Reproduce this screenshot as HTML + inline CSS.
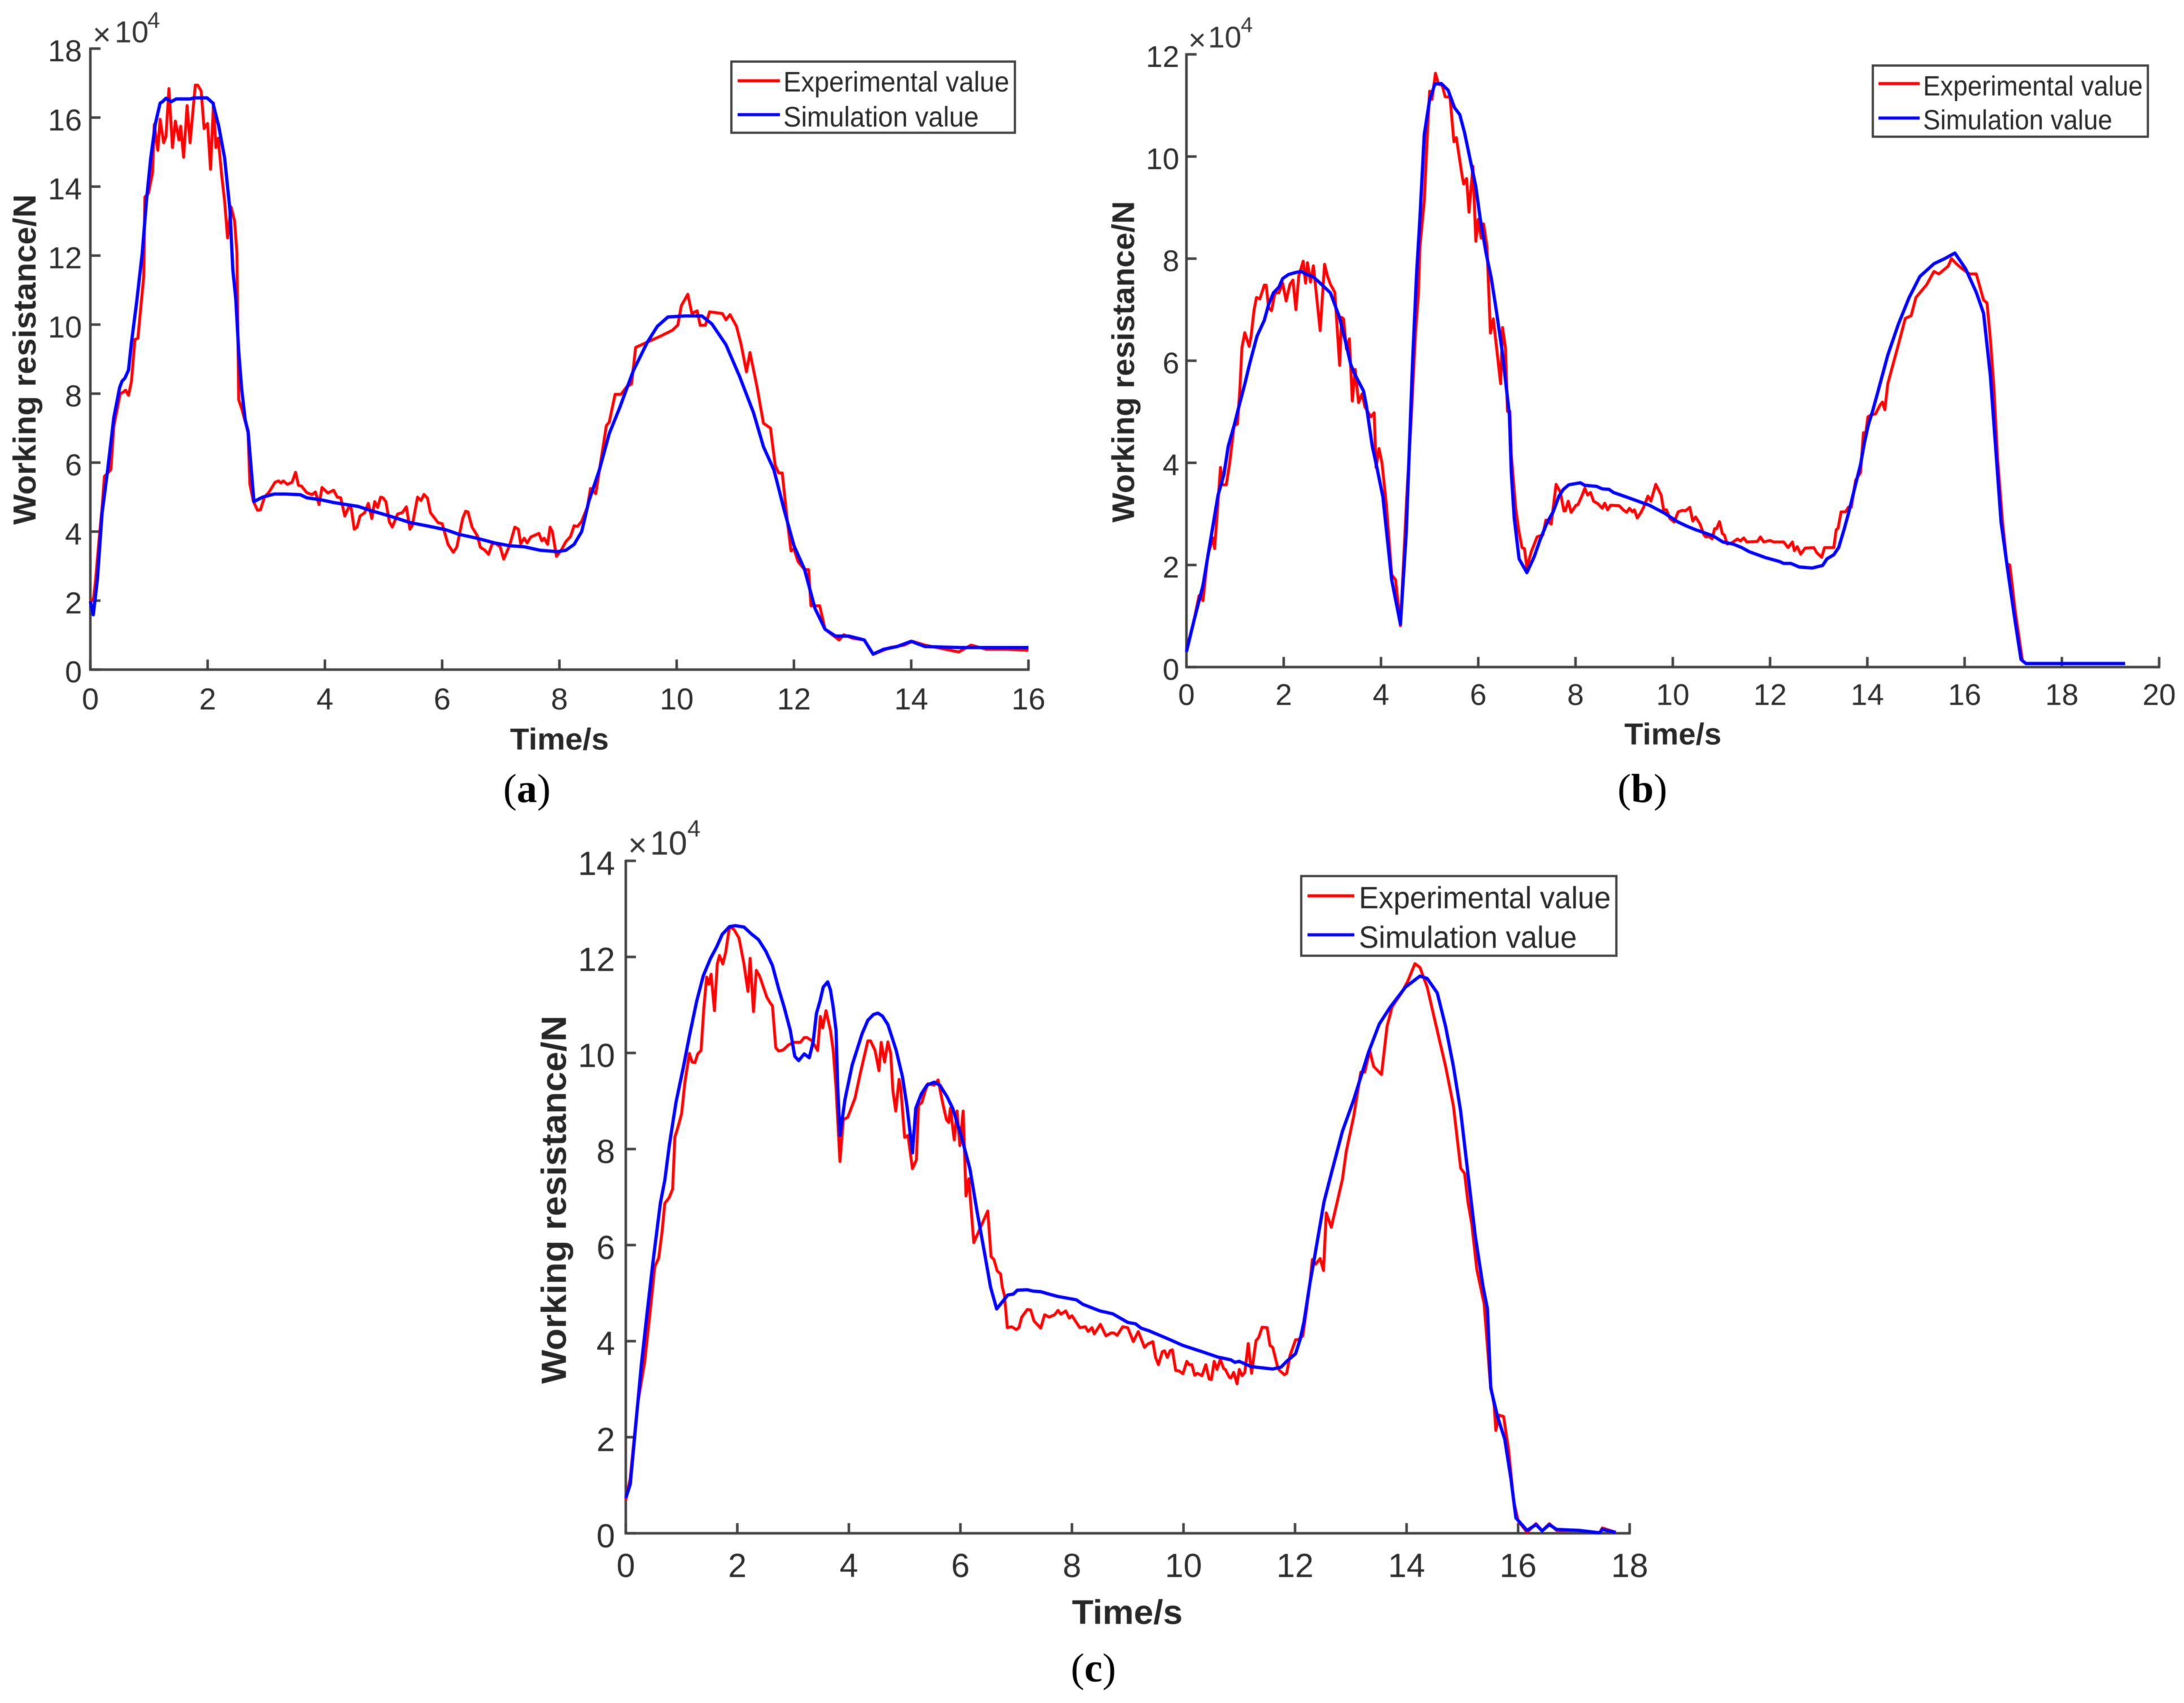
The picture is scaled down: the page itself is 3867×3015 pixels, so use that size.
<!DOCTYPE html>
<html>
<head>
<meta charset="utf-8">
<title>Working resistance: experimental and simulation values</title>
<style>
html,body{margin:0;padding:0;background:#fff;}
svg{display:block;filter:blur(0.7px);}
.tick{font-family:"Liberation Sans",sans-serif;fill:#2b2b2b;}
.mult{font-family:"Liberation Sans",sans-serif;fill:#333;}
.title{font-family:"Liberation Sans",sans-serif;font-weight:bold;fill:#262626;}
.leg{font-family:"Liberation Sans",sans-serif;fill:#262626;}
.cap{font-family:"Liberation Serif",serif;fill:#000;}
</style>
</head>
<body>
<svg id="figure" xmlns="http://www.w3.org/2000/svg" width="3867" height="3015" viewBox="0 0 3867 3015">
<rect x="0" y="0" width="3867" height="3015" fill="#fff"/>

<g id="panel-a">
  <text class="title" font-size="57" transform="translate(63,929) rotate(-90)" textLength="585" lengthAdjust="spacingAndGlyphs">Working resistance/N</text>
  <text class="title" font-size="54" x="903" y="1327" textLength="175" lengthAdjust="spacingAndGlyphs">Time/s</text>
  <text class="mult" font-size="56" x="164" y="80">×</text>
  <text class="mult" font-size="54" x="203" y="75">10</text>
  <text class="mult" font-size="40" x="261" y="49">4</text>
  <text class="cap" font-size="72" x="933" y="1420" text-anchor="middle">(<tspan font-weight="bold">a</tspan>)</text>
</g>

<g id="panel-b">
  <text class="title" font-size="56" transform="translate(2008,925) rotate(-90)" textLength="569" lengthAdjust="spacingAndGlyphs">Working resistance/N</text>
  <text class="title" font-size="54" x="2876" y="1318" textLength="172" lengthAdjust="spacingAndGlyphs">Time/s</text>
  <text class="mult" font-size="54" x="2104" y="89">×</text>
  <text class="mult" font-size="53" x="2139" y="84">10</text>
  <text class="mult" font-size="38" x="2197" y="57">4</text>
  <text class="cap" font-size="72" x="2908" y="1420" text-anchor="middle">(<tspan font-weight="bold">b</tspan>)</text>
</g>

<g id="panel-c">
  <text class="title" font-size="62" transform="translate(1002,2450) rotate(-90)" textLength="652" lengthAdjust="spacingAndGlyphs">Working resistance/N</text>
  <text class="title" font-size="60" x="1898" y="2875" textLength="196" lengthAdjust="spacingAndGlyphs">Time/s</text>
  <text class="mult" font-size="58" x="1112" y="1516">×</text>
  <text class="mult" font-size="59" x="1151" y="1513">10</text>
  <text class="mult" font-size="42" x="1217" y="1481">4</text>
  <text class="cap" font-size="72" x="1936" y="2977" text-anchor="middle">(<tspan font-weight="bold">c</tspan>)</text>
</g>

<g id="legends">
  <g>
    <rect x="1295" y="109" width="502" height="126" fill="#fff" stroke="#404040" stroke-width="4"/>
    <line x1="1306" y1="143" x2="1381" y2="143" stroke="#f00" stroke-width="5.5"/>
    <text class="leg" font-size="50" x="1387" y="162" textLength="400" lengthAdjust="spacingAndGlyphs">Experimental value</text>
    <line x1="1306" y1="203" x2="1381" y2="203" stroke="#00f" stroke-width="5.5"/>
    <text class="leg" font-size="50" x="1387" y="224" textLength="346" lengthAdjust="spacingAndGlyphs">Simulation value</text>
  </g>
  <g>
    <rect x="3316" y="116" width="487" height="126" fill="#fff" stroke="#404040" stroke-width="4"/>
    <line x1="3326" y1="148" x2="3399" y2="148" stroke="#f00" stroke-width="5.5"/>
    <text class="leg" font-size="49" x="3405" y="169" textLength="389" lengthAdjust="spacingAndGlyphs">Experimental value</text>
    <line x1="3326" y1="209" x2="3399" y2="209" stroke="#00f" stroke-width="5.5"/>
    <text class="leg" font-size="49" x="3405" y="229" textLength="335" lengthAdjust="spacingAndGlyphs">Simulation value</text>
  </g>
  <g>
    <rect x="2304" y="1551" width="558" height="141" fill="#fff" stroke="#404040" stroke-width="4"/>
    <line x1="2315" y1="1586" x2="2398" y2="1586" stroke="#f00" stroke-width="5.5"/>
    <text class="leg" font-size="55" x="2406" y="1608" textLength="446" lengthAdjust="spacingAndGlyphs">Experimental value</text>
    <line x1="2315" y1="1655" x2="2398" y2="1655" stroke="#00f" stroke-width="5.5"/>
    <text class="leg" font-size="55" x="2406" y="1678" textLength="386" lengthAdjust="spacingAndGlyphs">Simulation value</text>
  </g>
</g>
</svg>

<script>
// ---- Panel (a) data (force in units of 10^4 N) ----
var xTicksA = [0,2,4,6,8,10,12,14,16];
var yTicksA = [0,2,4,6,8,10,12,14,16,18];
var expTimeA = [
0,.05,.09,.15,.2,.24,.3,.35,.4,.44,
.51,.56,.6,.65,.7,.76,.81,.91,.93,.99,
1.06,1.09,1.15,1.19,1.25,1.29,1.34,1.4,1.45,1.51,
1.54,1.59,1.65,1.7,1.79,1.83,1.89,1.94,2,2.05,
2.1,2.14,2.18,2.24,2.29,2.34,2.4,2.46,2.5,2.53,
2.58,2.64,2.69,2.72,2.78,2.85,2.9,2.97,3.05,3.15,
3.21,3.25,3.29,3.36,3.44,3.5,3.55,3.6,3.69,3.78,
3.84,3.9,3.95,4.05,4.15,4.21,4.27,4.34,4.41,4.45,
4.5,4.55,4.6,4.68,4.74,4.8,4.85,4.9,4.95,4.99,
5.04,5.1,5.15,5.24,5.32,5.39,5.45,5.49,5.58,5.64,
5.69,5.75,5.8,5.93,6,6.1,6.19,6.25,6.35,6.4,
6.44,6.51,6.6,6.65,6.73,6.79,6.85,6.9,6.99,7.05,
7.15,7.24,7.3,7.34,7.4,7.45,7.51,7.65,7.7,7.74,
7.8,7.84,7.88,7.95,8.03,8.11,8.19,8.25,8.31,8.38,
8.48,8.53,8.62,8.71,8.8,8.85,8.95,9.05,9.15,9.23,
9.3,9.5,9.73,9.93,10.02,10.08,10.19,10.26,10.35,10.4,
10.49,10.56,10.78,10.84,10.91,11.02,11.1,11.19,11.25,11.37,
11.48,11.6,11.68,11.74,11.8,11.89,11.95,12,12.07,12.18,
12.25,12.29,12.44,12.53,12.77,12.85,13,13.2,13.35,13.64,
13.88,14.02,14.23,14.81,15.02,15.28,15.63,16];
var expForceA = [
2.05,2,2.6,3.8,4.7,5.6,5.7,5.8,7.05,7.4,
8,8.04,8.1,7.95,8.35,9.57,9.6,11.4,13.7,13.8,
14.4,15.8,15.05,15.95,15.27,15.46,16.84,15.13,15.9,15.35,
15.75,14.85,16.35,15.27,16.94,16.94,16.77,15.68,15.83,14.5,
16.42,15.13,15.4,14.33,13.58,12.51,13.41,13,12.08,7.82,
7.57,7.2,6.86,5.38,4.88,4.62,4.63,5,5.15,5.43,
5.47,5.41,5.47,5.37,5.43,5.72,5.34,5.32,5.13,5.07,
5.15,4.78,5.28,5.12,5.2,5,4.98,4.45,4.72,4.67,
4.07,4.13,4.45,4.55,4.82,4.38,4.87,4.7,5,4.98,
4.87,4.28,4.13,4.51,4.55,4.72,4.07,4.17,5,4.9,
5.08,4.97,4.55,4.26,4.23,3.63,3.4,3.55,4.38,4.59,
4.57,4.13,3.88,3.55,3.46,3.34,3.63,3.67,3.56,3.2,
3.6,4.13,4.07,3.65,3.81,3.67,3.84,3.95,3.73,3.81,
3.63,4.13,4,3.28,3.46,3.71,3.86,4.17,4.15,4.3,
4.72,5.25,5.1,6.08,7.07,7.17,7.98,7.98,8.2,8.28,
9.34,9.49,9.67,9.84,9.99,10.55,10.88,10.32,10.4,9.98,
9.98,10.37,10.32,10.14,10.29,9.95,9.42,8.63,9.19,8.2,
7.14,7,5.93,5.7,5.7,4.27,3.44,3.5,3.13,2.9,
2.9,1.85,1.85,1.17,.86,1.01,.91,.86,.44,.64,
.71,.82,.71,.51,.71,.59,.59,.56];
var simTimeA = [
0,.05,.12,.2,.29,.4,.5,.54,.59,.65,
.7,.79,.885,.96,1.03,1.11,1.19,1.23,1.29,1.38,
1.46,1.7,1.77,1.99,2.09,2.19,2.29,2.38,2.43,2.48,
2.53,2.58,2.64,2.69,2.79,2.94,3.14,3.33,3.58,3.69,
3.94,4.16,4.57,4.82,5.07,5.46,5.79,6.07,6.29,6.59,
6.9,7.15,7.4,7.67,7.97,8.11,8.25,8.38,8.5,8.68,
8.85,9.03,9.26,9.5,9.67,9.85,10.14,10.43,10.6,10.84,
11.07,11.31,11.48,11.66,11.83,12,12.18,12.36,12.53,12.71,
12.94,13.2,13.35,13.53,13.76,14,14.23,14.81,16];
var simForceA = [
1.98,1.59,2.63,4.55,5.72,7.3,8.18,8.36,8.45,8.68,
9.47,10.66,12.08,13.66,14.83,15.83,16.42,16.46,16.56,16.46,
16.54,16.54,16.57,16.57,16.42,15.75,14.83,13.33,11.58,10.74,
9.24,8.15,7.24,6.9,4.87,5,5.09,5.09,5.07,4.98,
4.92,4.84,4.73,4.59,4.47,4.26,4.15,4.05,3.92,3.81,
3.67,3.59,3.56,3.46,3.42,3.46,3.63,4,4.87,5.78,
6.84,7.6,8.66,9.49,9.95,10.22,10.25,10.25,10.02,9.42,
8.51,7.45,6.46,5.78,4.65,3.59,2.91,1.77,1.17,.97,
.97,.86,.45,.59,.67,.82,.67,.64,.64];

// ---- Panel (b) data ----
var xTicksB = [0,2,4,6,8,10,12,14,16,18,20];
var yTicksB = [0,2,4,6,8,10,12];
var expTimeB = [
0,.15,.26,.34,.44,.55,.58,.7,.74,.82,
.89,.98,1.05,1.1,1.14,1.2,1.29,1.33,1.39,1.44,
1.51,1.6,1.64,1.69,1.75,1.82,1.9,1.98,2.05,2.13,
2.19,2.25,2.31,2.4,2.45,2.49,2.55,2.61,2.75,2.84,
2.9,2.96,3.05,3.15,3.19,3.23,3.29,3.35,3.41,3.47,
3.54,3.61,3.67,3.74,3.79,3.86,3.9,3.96,4.02,4.11,
4.22,4.3,4.4,4.53,4.62,4.71,4.77,4.8,4.89,4.95,
5,5.05,5.12,5.18,5.26,5.32,5.42,5.5,5.55,5.67,
5.7,5.76,5.81,5.89,5.95,6,6.06,6.11,6.18,6.25,
6.31,6.46,6.5,6.56,6.6,6.65,6.68,6.77,6.83,6.9,
6.95,7,7.09,7.21,7.33,7.39,7.5,7.6,7.69,7.76,
7.79,7.85,7.91,8.01,8.05,8.13,8.19,8.25,8.31,8.37,
8.46,8.55,8.6,8.66,8.72,8.9,8.98,9.05,9.11,9.17,
9.21,9.27,9.34,9.4,9.49,9.55,9.65,9.76,9.81,9.87,
9.94,10.03,10.11,10.2,10.26,10.35,10.41,10.47,10.56,10.64,
10.68,10.74,10.81,10.86,10.9,10.96,11.02,11.06,11.12,11.21,
11.33,11.39,11.46,11.52,11.74,11.8,11.87,12,12.07,12.28,
12.37,12.46,12.5,12.56,12.63,12.72,12.9,12.96,13.06,13.12,
13.31,13.36,13.4,13.46,13.55,13.61,13.67,13.76,13.86,13.92,
13.97,14.01,14.08,14.17,14.26,14.31,14.36,14.42,14.64,14.78,
14.9,15,15.22,15.37,15.47,15.66,15.73,15.83,15.95,16.1,
16.24,16.39,16.46,16.53,16.6,16.68,16.78,16.87,16.93,17.04,
17.19,17.26,19.3];
var expForceB = [
.33,.89,1.4,1.3,2.2,2.53,2.32,3.91,3.57,3.57,
4,4.73,4.76,5.46,6.25,6.55,6.28,6.48,6.99,7.24,
7.21,7.48,7.48,7.04,6.98,7.33,7.33,7.52,7.17,7.5,
7.58,7,7.66,7.95,7.52,7.92,7.54,7.86,6.59,7.89,
7.66,7.5,7.34,5.91,6.85,6.82,6.23,6.43,5.21,5.83,
5.18,5.35,5.1,4.98,4.9,4.98,3.91,4.28,4,3.19,
1.81,1.71,.81,3.33,4.84,6.54,7.33,8.23,9.13,10.37,
11.28,11.12,11.63,11.42,11.39,11.17,11.16,10.29,10.37,9.61,
9.46,9.57,8.91,9.81,8.34,8.77,8.4,8.68,8.23,6.54,
6.82,5.55,6.65,6.25,5.01,5.01,4.16,3.11,2.69,2.34,
2.32,1.95,2.26,2.55,2.59,2.88,2.8,3.58,3.42,3.06,
3.06,3.25,3.03,3.17,3.18,3.35,3.5,3.37,3.42,3.25,
3.2,3.11,3.21,3.08,3.17,3.16,3.08,3.03,3.11,3.04,
3.08,2.92,3.02,3.13,3.35,3.25,3.58,3.37,3.08,3.08,
2.91,2.84,3.04,3.07,3.06,3.13,2.86,2.94,2.8,2.59,
2.55,2.56,2.51,2.71,2.71,2.85,2.61,2.59,2.41,2.43,
2.51,2.47,2.53,2.45,2.46,2.55,2.45,2.48,2.45,2.45,
2.34,2.45,2.28,2.36,2.21,2.33,2.34,2.24,2.15,2.34,
2.34,2.69,2.72,3.04,3.04,3.13,3.13,3.66,3.81,4.59,
4.59,4.9,4.94,4.96,5.13,5.19,5.04,5.55,6.32,6.83,
6.88,7.24,7.49,7.75,7.7,7.85,8,7.9,7.8,7.7,
7.7,7.19,7.13,6.42,5.5,4.06,2.84,2.02,2,1.1,
.12,.07,.07];
var simTimeB = [
0,.15,.34,.65,.77,.86,.98,1.1,1.21,1.3,
1.45,1.6,1.69,1.79,1.9,1.98,2.1,2.25,2.36,2.43,
2.61,2.75,2.96,3.14,3.26,3.38,3.47,3.64,3.7,3.82,
3.91,4.04,4.22,4.4,4.52,4.65,4.73,4.8,4.89,5,
5.11,5.24,5.38,5.51,5.62,5.72,5.95,6.04,6.16,6.27,
6.37,6.49,6.64,6.68,6.74,6.84,7,7.15,7.27,7.42,
7.54,7.66,7.75,7.86,8.1,8.19,8.43,8.55,8.69,8.78,
9.05,9.34,9.52,9.64,9.82,10.11,10.29,10.47,10.83,11.03,
11.24,11.42,11.57,11.92,12.19,12.28,12.43,12.6,12.87,13.08,
13.17,13.31,13.41,13.52,13.61,13.76,13.86,13.94,14.02,14.11,
14.2,14.42,14.64,14.86,15.08,15.37,15.59,15.8,16.02,16.24,
16.39,16.53,16.64,16.75,16.9,17.04,17.16,17.26,19.3];
var simForceB = [
.3,.89,1.6,3.37,3.77,4.33,4.73,5.18,5.58,5.94,
6.48,6.79,7.1,7.33,7.44,7.61,7.69,7.73,7.75,7.71,
7.64,7.52,7.33,6.87,6.42,5.92,5.72,5.41,5.12,4.33,
3.94,3.33,1.71,.84,2.63,5.97,7.66,8.79,10.43,11.11,
11.42,11.43,11.3,10.96,10.82,10.46,9.41,8.79,8.11,7.61,
6.99,6.2,4.95,3.81,2.92,2.12,1.85,2.16,2.49,2.84,
3.04,3.35,3.48,3.57,3.61,3.56,3.54,3.49,3.48,3.42,
3.33,3.23,3.17,3.11,3.02,2.84,2.76,2.69,2.57,2.45,
2.41,2.34,2.26,2.14,2.07,2.03,2.03,1.96,1.94,1.99,
2.12,2.2,2.34,2.69,3,3.58,3.97,4.39,4.74,5.02,
5.33,6.11,6.72,7.24,7.65,7.9,8,8.11,7.8,7.34,
6.93,5.7,4.27,2.84,1.81,.89,.15,.07,.07];

// ---- Panel (c) data ----
var xTicksC = [0,2,4,6,8,10,12,14,16,18];
var yTicksC = [0,2,4,6,8,10,12,14];
var expTimeC = [
0,.08,.21,.34,.44,.52,.59,.65,.7,.78,
.84,.88,.93,1,1.06,1.14,1.19,1.24,1.29,1.35,
1.4,1.45,1.49,1.53,1.59,1.64,1.68,1.74,1.79,1.86,
1.94,2.03,2.12,2.19,2.23,2.29,2.34,2.4,2.53,2.59,
2.63,2.69,2.74,2.82,2.92,3.02,3.13,3.2,3.25,3.33,
3.38,3.44,3.49,3.53,3.59,3.67,3.72,3.77,3.84,3.9,
3.98,4.11,4.21,4.34,4.39,4.47,4.54,4.58,4.64,4.7,
4.75,4.79,4.84,4.9,4.93,5,5.06,5.14,5.21,5.25,
5.31,5.37,5.42,5.53,5.6,5.68,5.75,5.79,5.82,5.89,
5.94,5.99,6.05,6.1,6.15,6.24,6.49,6.55,6.6,6.66,
6.72,6.75,6.79,6.84,6.92,7,7.05,7.1,7.2,7.26,
7.32,7.44,7.51,7.59,7.69,7.75,7.8,7.89,7.95,8,
8.14,8.24,8.29,8.36,8.4,8.51,8.61,8.7,8.75,8.81,
8.91,9,9.1,9.19,9.3,9.36,9.45,9.5,9.55,9.62,
9.66,9.71,9.76,9.8,9.86,9.92,9.99,10.06,10.1,10.15,
10.2,10.25,10.33,10.4,10.46,10.5,10.55,10.6,10.66,10.72,
10.75,10.82,10.85,10.9,10.96,11,11.05,11.1,11.16,11.22,
11.3,11.35,11.41,11.5,11.55,11.6,11.69,11.72,11.81,11.85,
11.91,12.01,12.06,12.14,12.19,12.27,12.31,12.37,12.45,12.51,
12.56,12.65,12.85,12.92,13.05,13.18,13.25,13.34,13.41,13.55,
13.65,13.74,13.91,14.02,14.15,14.24,14.37,14.51,14.7,14.84,
14.97,15.04,15.1,15.17,15.26,15.39,15.5,15.57,15.6,15.66,
15.74,15.83,15.92,16,16.16,16.32,16.43,16.56,16.69,17.09,
17.46,17.51,17.75];
var expForceC = [
.69,1.14,2.67,3.58,4.66,5.55,5.73,6.27,6.87,6.99,
7.17,8.25,8.43,8.73,9.39,9.99,9.81,9.8,9.98,10.05,
10.95,11.58,11.43,11.64,10.88,11.85,12.03,11.85,12.09,12.63,
12.57,12.39,11.85,11.28,11.97,10.86,11.72,11.6,11.16,11.04,
10.98,10.11,10.04,10.06,10.17,10.22,10.22,10.32,10.32,10.26,
10.17,10.05,10.76,10.52,10.88,10.47,10.05,9.27,7.74,8.61,
8.66,9.06,9.6,10.25,10.25,10.05,9.63,10.22,9.81,10.23,
9.99,9.21,8.79,9.45,9.27,8.24,8.28,7.59,7.77,8.91,
8.97,9.21,9.36,9.33,9.44,8.97,8.61,8.55,8.85,8.19,
8.79,8.07,8.79,7.02,7.38,6.05,6.71,5.76,5.7,5.46,
5.4,5.13,4.95,4.28,4.3,4.24,4.28,4.5,4.66,4.65,
4.42,4.27,4.55,4.5,4.55,4.64,4.56,4.63,4.48,4.53,
4.28,4.3,4.2,4.28,4.15,4.35,4.11,4.17,4.17,4.12,
4.3,4.28,3.99,4.2,3.87,3.94,3.99,3.66,3.51,3.78,
3.8,3.66,3.8,3.82,3.39,3.38,3.32,3.58,3.51,3.51,
3.29,3.33,3.28,3.51,3.21,3.2,3.58,3.41,3.62,3.43,
3.41,3.25,3.23,3.35,3.11,3.41,3.28,3.35,3.95,3.33,
4.01,4.08,4.29,4.28,3.91,3.87,3.45,3.39,3.3,3.33,
3.7,4.03,4.03,4.11,4.53,5.23,5.7,5.6,5.72,5.47,
6.67,6.37,7.37,7.96,8.67,9.6,9.6,10.05,9.72,9.55,
10.55,10.96,11.25,11.49,11.86,11.78,11.37,10.66,9.72,8.9,
7.6,7.49,6.9,6.43,5.49,4.78,3.14,2.67,2.14,2.46,
2.43,1.73,.67,.26,.02,.2,.05,.2,.06,.06,
.01,.11,.02];
var simTimeC = [
0,.08,.28,.39,.49,.62,.7,.78,.9,1.03,
1.14,1.27,1.39,1.52,1.63,1.73,1.86,1.96,2.12,2.25,
2.38,2.51,2.63,2.74,2.84,2.95,3.03,3.1,3.2,3.29,
3.36,3.42,3.48,3.54,3.62,3.67,3.72,3.77,3.8,3.84,
3.93,4.06,4.24,4.34,4.44,4.52,4.6,4.7,4.85,4.96,
5.04,5.14,5.2,5.3,5.4,5.53,5.63,5.76,5.86,6.02,
6.17,6.3,6.43,6.54,6.65,6.76,6.85,6.95,7.02,7.2,
7.31,7.44,7.62,7.75,8.08,8.19,8.5,8.73,9,9.14,
9.24,9.37,9.74,9.99,10.36,10.61,10.85,10.92,11,11.21,
11.6,11.75,11.85,12.01,12.09,12.16,12.27,12.34,12.52,12.65,
12.85,13.05,13.32,13.51,13.71,13.98,14.24,14.37,14.55,14.7,
14.84,14.97,15.1,15.23,15.37,15.45,15.51,15.63,15.76,15.87,
15.96,16.16,16.32,16.43,16.56,16.69,17.09,17.46,17.51,17.75];
var simForceC = [
.73,1.02,3.52,4.66,5.67,6.87,7.35,8.07,8.97,9.69,
10.35,11.07,11.61,11.97,12.21,12.47,12.63,12.65,12.62,12.48,
12.36,12.12,11.82,11.34,10.95,10.47,9.93,9.84,9.98,9.9,
10.23,10.83,11.07,11.37,11.48,11.31,10.95,10.47,9.27,8.28,
9.03,9.75,10.41,10.68,10.8,10.83,10.77,10.59,10.05,9.51,
8.91,7.92,8.85,9.15,9.33,9.39,9.33,9.09,8.85,8.25,
7.59,6.69,5.85,5.13,4.67,4.83,4.96,4.98,5.06,5.07,
5.04,5.03,4.97,4.93,4.86,4.77,4.63,4.57,4.39,4.36,
4.27,4.22,4.04,3.91,3.77,3.67,3.61,3.56,3.58,3.47,
3.42,3.46,3.58,3.74,4.03,4.4,5.23,5.68,6.9,7.49,
8.37,9.02,10.02,10.6,10.96,11.37,11.6,11.55,11.25,10.55,
9.72,8.78,7.49,6.2,5.14,4.67,3.02,2.43,1.96,1.14,
.32,.06,.18,.05,.18,.08,.06,.01,.08,.02];

var NS = 'http://www.w3.org/2000/svg';

function draw(panelId, frame, xTicks, yTicks, expT, expV, simT, simV) {
  var panel = document.getElementById(panelId);
  var xMax = xTicks[xTicks.length - 1];
  var yMax = yTicks[yTicks.length - 1];
  function xs(t) { return frame.left + (t / xMax) * (frame.right - frame.left); }
  function ys(v) { return frame.bottom - (v / yMax) * (frame.bottom - frame.top); }

  function path(ts, vs) {
    var d = '';
    var n = Math.min(ts.length, vs.length);
    for (var i = 0; i < n; i++) {
      d += (i ? 'L' : 'M') + xs(ts[i]).toFixed(1) + ' ' + ys(vs[i]).toFixed(1);
    }
    return d;
  }
  function line(x1, y1, x2, y2) {
    var l = document.createElementNS(NS, 'line');
    l.setAttribute('x1', x1);
    l.setAttribute('y1', y1);
    l.setAttribute('x2', x2);
    l.setAttribute('y2', y2);
    l.setAttribute('stroke', '#404040');
    l.setAttribute('stroke-width', '4.5');
    panel.appendChild(l);
    return l;
  }
  function label(str, x, y, anchor) {
    var t = document.createElementNS(NS, 'text');
    t.setAttribute('class', 'tick');
    t.setAttribute('font-size', frame.font);
    t.setAttribute('x', x);
    t.setAttribute('y', y);
    t.setAttribute('text-anchor', anchor);
    t.textContent = str;
    panel.appendChild(t);
    return t;
  }

  var xAxis = line(frame.left - 2, frame.bottom, frame.right + 2, frame.bottom);
  
  
  var yAxis = line(frame.left, frame.top - 2, frame.left, frame.bottom + 2);
  
  

  xTicks.forEach(function (tv) {
    var tick = line(xs(tv), frame.bottom, xs(tv), frame.bottom - 18);
    
    
    var lab = label(String(tv), xs(tv), frame.xLabelY, 'middle');
    
    
  });
  yTicks.forEach(function (tv) {
    var tick = line(frame.left, ys(tv), frame.left + 18, ys(tv));
    
    
    var lab = label(String(tv), frame.yLabelX, ys(tv) + frame.font * 0.42, 'end');
    
    
  });

  var expLine = document.createElementNS(NS, 'path');
  expLine.setAttribute('d', path(expT, expV));
  expLine.setAttribute('fill', 'none');
  expLine.setAttribute('stroke', '#ff0000');
  expLine.setAttribute('stroke-width', '5.2');
  expLine.setAttribute('stroke-linejoin', 'round');
  
  
  panel.appendChild(expLine);

  var simLine = document.createElementNS(NS, 'path');
  simLine.setAttribute('d', path(simT, simV));
  simLine.setAttribute('fill', 'none');
  simLine.setAttribute('stroke', '#0000ff');
  simLine.setAttribute('stroke-width', '5.8');
  simLine.setAttribute('stroke-linejoin', 'round');
  
  
  panel.appendChild(simLine);
}

draw('panel-a', {left:160, right:1821, top:86, bottom:1185.5, font:54, xLabelY:1256, yLabelX:145},
     xTicksA, yTicksA, expTimeA, expForceA, simTimeA, simForceA);
draw('panel-b', {left:2100.7, right:3823, top:96.3, bottom:1181, font:53, xLabelY:1248, yLabelX:2088},
     xTicksB, yTicksB, expTimeB, expForceB, simTimeB, simForceB);
draw('panel-c', {left:1108, right:2885.5, top:1524, bottom:2714.5, font:59, xLabelY:2792, yLabelX:1089},
     xTicksC, yTicksC, expTimeC, expForceC, simTimeC, simForceC);

// legends paint above the plotted lines
var figure = document.getElementById('figure');
figure.appendChild(document.getElementById('legends'));
</script>
</body>
</html>
